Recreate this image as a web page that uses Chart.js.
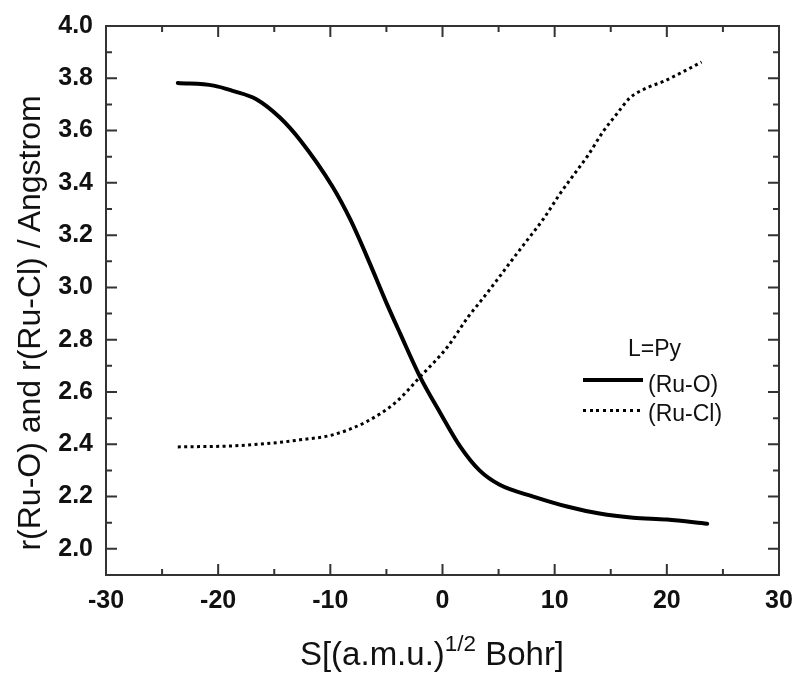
<!DOCTYPE html>
<html>
<head>
<meta charset="utf-8">
<script src="https://cdn.jsdelivr.net/npm/chart.js@4.4.1/dist/chart.umd.min.js"></script>
<style>
  body { margin: 0; background: #fff; }
  #wrap { position: relative; width: 797px; height: 673px; font-family: "Liberation Sans", Arial, sans-serif; color: #111; }
  #c { position: absolute; left: 0; top: 0; }
  .txt { position: absolute; white-space: nowrap; }
  #ytitle { left: -221.5px; top: 307px; width: 500px; text-align: center; font-size: 32px; line-height: 32px; transform: rotate(-90deg); }
  #xtitle { left: 232px; top: 637px; width: 400px; text-align: center; font-size: 33px; line-height: 33px; }
  #xtitle sup { font-size: 0.68em; line-height: 0; vertical-align: 0.62em; }
  .leg { font-size: 23px; line-height: 23px; }
  .sample { position: absolute; left: 583px; width: 60px; }
  #solid { top: 378px; height: 4px; background: #000; }
  #dotted { top: 409px; height: 3px; background: repeating-linear-gradient(to right, #000 0 3px, transparent 3px 6.7px); }
</style>
</head>
<body>
<div id="wrap">
  <canvas id="c" width="797" height="673"></canvas>
  <div class="txt" id="ytitle">r(Ru-O) and r(Ru-Cl) / Angstrom</div>
  <div class="txt" id="xtitle">S[(a.m.u.)<sup>1/2</sup> Bohr]</div>
  <div class="txt leg" style="left:628px; top:337px;">L=Py</div>
  <div class="sample" id="solid"></div>
  <div class="txt leg" style="left:648px; top:373px;">(Ru-O)</div>
  <div class="sample" id="dotted"></div>
  <div class="txt leg" style="left:648px; top:402px;">(Ru-Cl)</div>
</div>
<script>
// --- DATA ---
const sRuO = [-23.6, -20.4, -18.7, -16.6, -14.5, -12.7, -9.8, -8.2, -6.5, -5.0, -3.8, -2.0, -0.2, 1.6, 3.3, 5.1, 8.1, 11.1, 14.0, 17.0, 20.0, 23.6];
const rRuO = [3.782, 3.772, 3.752, 3.72, 3.65, 3.564, 3.385, 3.258, 3.094, 2.941, 2.826, 2.658, 2.52, 2.39, 2.30, 2.245, 2.20, 2.162, 2.135, 2.119, 2.112, 2.096];

const sRuCl = [-23.6, -18.7, -14.8, -12.7, -9.8, -6.8, -4.1, -2.0, 0.4, 2.3, 3.6, 4.8, 6.2, 7.5, 9.0, 10.5, 11.6, 13.0, 14.3, 15.6, 16.7, 18.2, 19.7, 21.4, 23.1];
const rRuCl = [2.39, 2.394, 2.406, 2.417, 2.436, 2.486, 2.563, 2.658, 2.77, 2.888, 2.958, 3.025, 3.105, 3.178, 3.262, 3.36, 3.425, 3.507, 3.595, 3.667, 3.725, 3.763, 3.788, 3.824, 3.862];

// axis ticks
const xTicks = [-30, -20, -10, 0, 10, 20, 30];
const xMinor = [-25, -15, -5, 5, 15, 25];
const yTicks = [2.0, 2.2, 2.4, 2.6, 2.8, 3.0, 3.2, 3.4, 3.6, 3.8, 4.0];
const yMinor = [2.1, 2.3, 2.5, 2.7, 2.9, 3.1, 3.3, 3.5, 3.7, 3.9];

const toXY = (xs, ys) => xs.map((x, i) => ({ x: x, y: ys[i] }));

// frame + inward ticks on all four sides
const frameTicks = {
    id: 'frameTicks',
    afterDatasetsDraw(chart) {
        const { ctx, chartArea: a, scales: { x, y } } = chart;
        ctx.save();
        ctx.strokeStyle = '#333';
        ctx.lineWidth = 2;
        ctx.strokeRect(a.left, a.top, a.right - a.left, a.bottom - a.top);
        ctx.beginPath();
        const vt = (v, len) => {
            const px = x.getPixelForValue(v);
            ctx.moveTo(px, a.bottom); ctx.lineTo(px, a.bottom - len);
            ctx.moveTo(px, a.top); ctx.lineTo(px, a.top + len);
        };
        const ht = (v, len) => {
            const py = y.getPixelForValue(v);
            ctx.moveTo(a.left, py); ctx.lineTo(a.left + len, py);
            ctx.moveTo(a.right, py); ctx.lineTo(a.right - len, py);
        };
        xTicks.forEach(v => vt(v, 11));
        xMinor.forEach(v => vt(v, 6));
        yTicks.forEach(v => ht(v, 11));
        yMinor.forEach(v => ht(v, 6));
        ctx.stroke();
        ctx.restore();
    }
};

const tickFont = { family: 'Liberation Sans', size: 25, weight: 'bold' };

new Chart(document.getElementById('c').getContext('2d'), {
    type: 'line',
    data: {
        datasets: [
            { label: '(Ru-O)', data: toXY(sRuO, rRuO), borderColor: '#000', borderWidth: 4, pointRadius: 0, cubicInterpolationMode: 'monotone', borderCapStyle: 'round' },
            { label: '(Ru-Cl)', data: toXY(sRuCl, rRuCl), borderColor: '#000', borderWidth: 3, borderDash: [3, 3.4], pointRadius: 0, cubicInterpolationMode: 'monotone', borderCapStyle: 'butt' }
        ]
    },
    options: {
        responsive: false,
        animation: false,
        layout: { padding: { top: 26, right: 18, left: 0, bottom: 0 } },
        plugins: { legend: { display: false }, tooltip: { enabled: false } },
        scales: {
            x: {
                type: 'linear', min: -30, max: 30,
                afterBuildTicks: s => { s.ticks = xTicks.map(v => ({ value: v })); },
                afterFit: s => { s.height = 98; s.paddingLeft = 0; s.paddingRight = 0; },
                grid: { display: false, drawTicks: false },
                border: { display: false },
                ticks: { font: tickFont, color: '#111', padding: 11 }
            },
            y: {
                type: 'linear', min: 1.9, max: 4.0,
                afterBuildTicks: s => { s.ticks = yTicks.map(v => ({ value: v })); },
                afterFit: s => { s.width = 106; s.paddingTop = 0; s.paddingBottom = 0; },
                grid: { display: false, drawTicks: false },
                border: { display: false },
                ticks: { font: tickFont, color: '#111', padding: 13, callback: v => v.toFixed(1) }
            }
        }
    },
    plugins: [frameTicks]
});
</script>
</body>
</html>
